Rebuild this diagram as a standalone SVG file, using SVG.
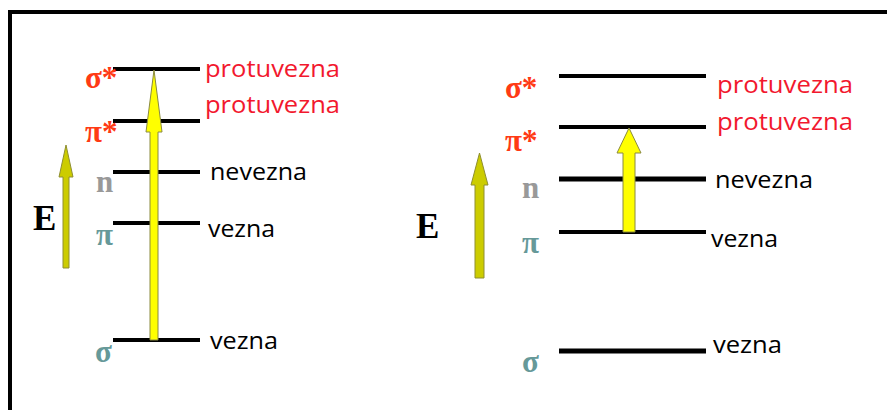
<svg xmlns="http://www.w3.org/2000/svg" width="887" height="410" viewBox="0 0 887 410">
<style>
.lvl{stroke:#000;stroke-width:4;}
.lvlw{stroke:#000;stroke-width:5;}
.sym{font-family:"Liberation Serif","DejaVu Serif",serif;font-weight:bold;font-size:31px;}
.star{fill:#ff3a14;}
.grey{fill:#999999;}
.teal{fill:#669999;}
.lab{font-family:"Open Sans","Liberation Sans",sans-serif;font-size:24px;}
.red{fill:#f2182e;}
.blk{fill:#000;}
.E{font-family:"Liberation Serif","DejaVu Serif",serif;font-weight:bold;font-size:35px;fill:#000;}
.ya{fill:#ffff00;stroke:#8a8a40;stroke-width:1;}
.ea{fill:#cccc00;stroke:#8f8f30;stroke-width:1;}
</style>
<rect x="0" y="0" width="887" height="410" fill="#fff"/>
<rect x="10" y="12" width="900" height="420" fill="none" stroke="#000" stroke-width="4"/>

<g id="left-sigma-star">
<line class="lvl" x1="113" y1="69" x2="200" y2="69"/>
<text class="sym star" x="85" y="88">σ*</text>
<text class="lab red" x="205" y="77" textLength="135" lengthAdjust="spacingAndGlyphs">protuvezna</text>
</g>
<g id="left-pi-star">
<line class="lvl" x1="113" y1="121" x2="200" y2="121"/>
<text class="sym star" x="85" y="142">π*</text>
<text class="lab red" x="205" y="113" textLength="135" lengthAdjust="spacingAndGlyphs">protuvezna</text>
</g>
<g id="left-n">
<line class="lvl" x1="113" y1="172" x2="200" y2="172"/>
<text class="sym grey" x="96" y="192">n</text>
<text class="lab blk" x="210" y="180" textLength="97" lengthAdjust="spacingAndGlyphs">nevezna</text>
</g>
<g id="left-pi">
<line class="lvl" x1="113" y1="223" x2="200" y2="223"/>
<text class="sym teal" x="96" y="245">π</text>
<text class="lab blk" x="208" y="237" textLength="67" lengthAdjust="spacingAndGlyphs">vezna</text>
</g>
<g id="left-sigma">
<line class="lvl" x1="113" y1="340" x2="200" y2="340"/>
<text class="sym teal" x="95" y="362">σ</text>
<text class="lab blk" x="210" y="349" textLength="68" lengthAdjust="spacingAndGlyphs">vezna</text>
</g>
<g id="left-E">
<text class="E" x="33" y="230">E</text>
</g>

<g id="right-sigma-star">
<line class="lvl" x1="559" y1="76" x2="706" y2="76"/>
<text class="sym star" x="505" y="98">σ*</text>
<text class="lab red" x="717" y="93" textLength="136" lengthAdjust="spacingAndGlyphs">protuvezna</text>
</g>
<g id="right-pi-star">
<line class="lvl" x1="559" y1="127" x2="706" y2="127"/>
<text class="sym star" x="505" y="151">π*</text>
<text class="lab red" x="717" y="130" textLength="136" lengthAdjust="spacingAndGlyphs">protuvezna</text>
</g>
<g id="right-n">
<line class="lvlw" x1="559" y1="179" x2="706" y2="179"/>
<text class="sym grey" x="522" y="198">n</text>
<text class="lab blk" x="715" y="188" textLength="98" lengthAdjust="spacingAndGlyphs">nevezna</text>
</g>
<g id="right-pi">
<line class="lvl" x1="559" y1="232" x2="706" y2="232"/>
<text class="sym teal" x="522" y="253">π</text>
<text class="lab blk" x="711" y="247" textLength="67" lengthAdjust="spacingAndGlyphs">vezna</text>
</g>
<g id="right-sigma">
<line class="lvlw" x1="559" y1="351" x2="706" y2="351"/>
<text class="sym teal" x="522" y="372">σ</text>
<text class="lab blk" x="713" y="353" textLength="69" lengthAdjust="spacingAndGlyphs">vezna</text>
</g>
<g id="right-E">
<text class="E" x="416" y="238">E</text>
</g>

<g id="connectors">
<polygon class="ea" points="63,268 69,268 69,177 73,177 66,145 59,177 63,177"/>
<polygon class="ya" points="150,340 158,340 158,132 162,132 154,70 146,132 150,132"/>
<polygon class="ea" points="475,278 484,278 484,185 488,185 479.5,153 471,185 475,185"/>
<polygon class="ya" points="623,232 635,232 635,153 641,153 629,128 617,153 623,153"/>
</g>
</svg>
